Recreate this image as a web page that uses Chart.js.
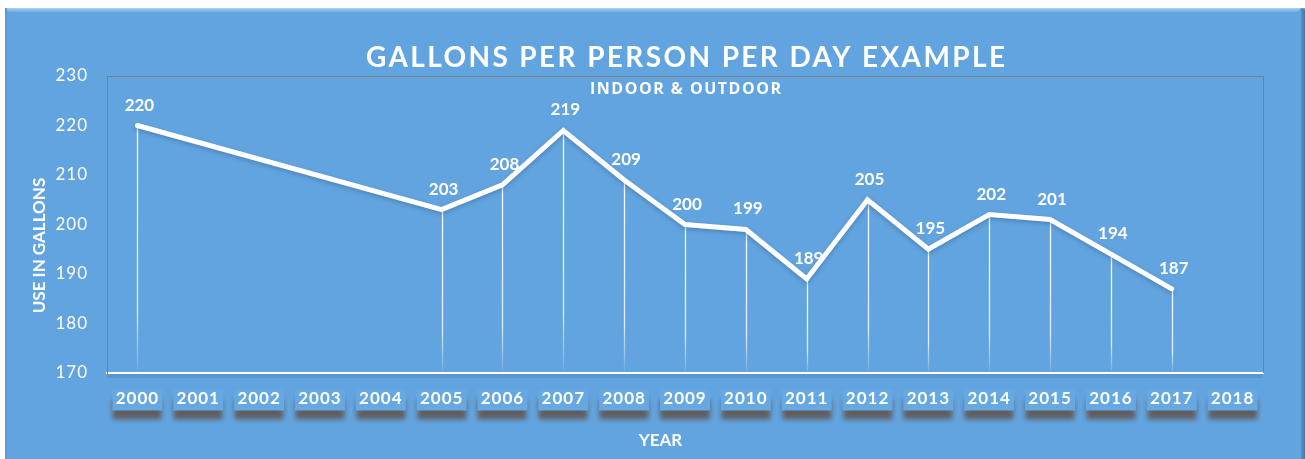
<!DOCTYPE html>
<html>
<head>
<meta charset="utf-8">
<title>Gallons per person per day</title>
<script src="https://cdn.jsdelivr.net/npm/chart.js@4.4.0/dist/chart.umd.min.js"></script>
<style>
  html, body { margin: 0; padding: 0; background: #fff; overflow: hidden; }
  #wrap { width: 1305px; height: 459px; }
</style>
</head>
<body>
<div id="wrap"><canvas id="myChart"></canvas></div>
<script>
	// data
	var years = ['2000','2001','2002','2003','2004','2005','2006','2007','2008','2009',
		'2010','2011','2012','2013','2014','2015','2016','2017','2018'];
	var usage = [220, null, null, null, null, 203, 208, 219, 209, 200,
		199, 189, 205, 195, 202, 201, 194, 187, null];
	var yMin = 170;
	var yMax = 230;
	var yStep = 10;

	var titleText = 'GALLONS PER PERSON PER DAY EXAMPLE';
	var subTitleText = 'INDOOR & OUTDOOR';
	var yTitleText = 'USE IN GALLONS';
	var xTitleText = 'YEAR';

	var panelBlue = '#62a4df';
	var fontName = 'Lato, "Open Sans", sans-serif';

	// draw a text stretched to a given width with letter spacing
	function spacedText(ctx, text, x, y, font, width) {
		ctx.font = font;
		ctx.letterSpacing = '0px';
		var w = ctx.measureText(text).width;
		var ls = (width - w) / (text.length - 1);
		if (ls < 0) ls = 0;
		ctx.letterSpacing = ls + 'px';
		ctx.textAlign = 'center';
		ctx.textBaseline = 'alphabetic';
		ctx.fillText(text, x + ls / 2, y);
	}

	var decor = {
		id: 'decor',
		beforeDraw: function(chart) {
			var ctx = chart.ctx;
			var W = chart.width, H = chart.height;
			ctx.save();
			ctx.fillStyle = '#ffffff';
			ctx.fillRect(0, 0, W, H);
			// blue panel
			ctx.fillStyle = panelBlue;
			ctx.fillRect(5, 8, W - 5, H - 8);
			// top bevel
			var g = ctx.createLinearGradient(0, 8, 0, 13);
			g.addColorStop(0, '#a6d2f6');
			g.addColorStop(1, panelBlue);
			ctx.fillStyle = g;
			ctx.beginPath();
			ctx.moveTo(5, 8); ctx.lineTo(W - 4, 8); ctx.lineTo(W - 9, 14); ctx.lineTo(11, 14);
			ctx.closePath();
			ctx.fill();
			// right side shade
			var g2 = ctx.createLinearGradient(W - 5, 0, W, 0);
			g2.addColorStop(0, '#5a97cf');
			g2.addColorStop(1, '#3f78ad');
			ctx.fillStyle = g2;
			ctx.beginPath();
			ctx.moveTo(W - 4, 8); ctx.lineTo(W, 10); ctx.lineTo(W, H); ctx.lineTo(W - 4, H);
			ctx.closePath();
			ctx.fill();
			// left edge
			ctx.fillStyle = '#5b9ad3';
			ctx.fillRect(5, 8, 2, H - 8);

			// boxes with shadow behind the year labels
			var xs = chart.scales.x;
			for (var i = 0; i < years.length; i++) {
				var cx = xs.getPixelForValue(i);
				ctx.save();
				ctx.shadowColor = 'rgba(95,90,90,0.95)';
				ctx.shadowBlur = 5;
				ctx.shadowOffsetY = 9;
				ctx.fillStyle = '#66a8e2';
				ctx.fillRect(cx - 25, 389.5, 50, 21);
				ctx.restore();
			}

			// white axis shadow
			ctx.fillStyle = 'rgba(70,110,160,0.25)';
			ctx.fillRect(chart.chartArea.left, chart.chartArea.bottom + 1, chart.chartArea.right - chart.chartArea.left, 4);

			// titles
			ctx.fillStyle = '#ffffff';
			spacedText(ctx, titleText, 685.5, 67, 'bold 28px ' + fontName, 639);
			spacedText(ctx, subTitleText, 685.5, 94, 'bold 16px "Open Sans", sans-serif', 191);
			spacedText(ctx, xTitleText, 660.5, 445.5, 'bold 17px ' + fontName, 43);
			ctx.save();
			ctx.translate(45, 245.5);
			ctx.rotate(-Math.PI / 2);
			spacedText(ctx, yTitleText, 0, 0, 'bold 17px ' + fontName, 135);
			ctx.restore();
			ctx.restore();
			// spacing used by the tick labels drawn next
			ctx.letterSpacing = '1px';
		},
		beforeDatasetsDraw: function(chart) {
			var ctx = chart.ctx;
			var a = chart.chartArea;
			ctx.save();
			ctx.letterSpacing = '0px';
			// gray frame top and right
			ctx.strokeStyle = '#7f7f7f';
			ctx.lineWidth = 1;
			ctx.beginPath();
			ctx.moveTo(a.left, a.top + 0.5);
			ctx.lineTo(a.right + 0.5, a.top + 0.5);
			ctx.lineTo(a.right + 0.5, a.bottom);
			ctx.stroke();
			// drop lines from each point
			var meta = chart.getDatasetMeta(0);
			meta.data.forEach(function(pt, i) {
				if (usage[i] === null) return;
				var x = Math.round(pt.x) + 0.5;
				var g = ctx.createLinearGradient(0, pt.y, 0, a.bottom);
				g.addColorStop(0, 'rgba(255,255,255,0.95)');
				g.addColorStop(0.75, 'rgba(255,255,255,0.8)');
				g.addColorStop(1, 'rgba(255,255,255,0.05)');
				ctx.strokeStyle = g;
				ctx.lineWidth = 1.3;
				ctx.beginPath();
				ctx.moveTo(x, pt.y);
				ctx.lineTo(x, a.bottom - 2);
				ctx.stroke();
			});
			ctx.restore();
		},
		beforeDatasetDraw: function(chart) {
			var ctx = chart.ctx;
			ctx.save();
			ctx.shadowColor = 'rgba(40,70,110,0.35)';
			ctx.shadowBlur = 4;
			ctx.shadowOffsetY = 2;
		},
		afterDatasetDraw: function(chart) {
			chart.ctx.restore();
		},
		afterDatasetsDraw: function(chart) {
			var ctx = chart.ctx;
			var meta = chart.getDatasetMeta(0);
			ctx.save();
			ctx.letterSpacing = '0px';
			ctx.fillStyle = '#ffffff';
			ctx.font = 'bold 17px ' + fontName;
			ctx.textAlign = 'center';
			ctx.textBaseline = 'alphabetic';
			meta.data.forEach(function(pt, i) {
				if (usage[i] === null) return;
				ctx.fillText(String(usage[i]), pt.x + 2, pt.y - 15);
			});
			ctx.restore();
		}
	};

	var config = {
		type: 'line',
		data: {
			labels: years,
			datasets: [{
				label: 'Gallons',
				data: usage,
				borderColor: '#ffffff',
				backgroundColor: '#ffffff',
				borderWidth: 5,
				borderCapStyle: 'round',
				borderJoinStyle: 'miter',
				pointRadius: 0,
				tension: 0,
				spanGaps: true
			}]
		},
		options: {
			responsive: true,
			maintainAspectRatio: false,
			animation: false,
			devicePixelRatio: 1,
			layout: { padding: { left: 0, right: 42, top: 76, bottom: 0 } },
			plugins: {
				legend: { display: false },
				title: { display: false },
				tooltip: { enabled: false }
			},
			scales: {
				x: {
					type: 'category',
					offset: true,
					grid: { display: false, drawTicks: false, offset: true },
					border: { display: true, color: '#ffffff', width: 2 },
					ticks: {
						color: '#ffffff',
						font: { family: fontName, size: 17, weight: 'bold' },
						padding: 15,
						maxRotation: 0,
						autoSkip: false
					},
					afterFit: function(s) { s.height = 86; }
				},
				y: {
					min: yMin,
					max: yMax,
					grid: { display: false, drawTicks: false },
					border: { display: true, color: '#7f7f7f', width: 1 },
					ticks: {
						stepSize: yStep,
						color: '#ffffff',
						font: { family: fontName, size: 17 },
						padding: 19
					},
					afterFit: function(s) { s.width = 107; }
				}
			}
		},
		plugins: [decor]
	};

	var myChart = new Chart(document.getElementById('myChart'), config);
</script>
</body>
</html>
